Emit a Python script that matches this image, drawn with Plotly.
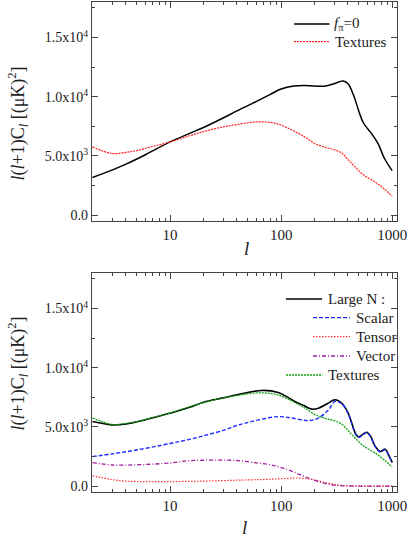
import plotly.graph_objects as go
from plotly.subplots import make_subplots

# ---- data ----
l_fpi0 = [2, 3, 4, 6, 10, 15, 20, 30, 40, 60, 80, 100, 130, 160, 200, 250, 300, 360, 400, 450, 500, 550, 650, 750, 850, 1000]
cl_fpi0 = [3180, 3800, 4300, 5100, 6180, 6900, 7400, 8200, 8800, 9600, 10200, 10650, 10900, 10950, 10900, 10900, 11100, 11320, 11100, 10100, 8800, 7800, 6900, 6000, 4800, 3750]

l_tex = [2, 3, 4, 5, 7, 10, 15, 20, 30, 40, 60, 80, 100, 130, 160, 200, 250, 300, 350, 400, 470, 550, 650, 750, 850, 1000]
cl_tex = [5760, 5200, 5300, 5450, 5800, 6180, 6700, 7050, 7450, 7650, 7870, 7830, 7600, 7100, 6650, 6050, 5720, 5520, 5250, 4700, 4000, 3400, 2980, 2600, 2200, 1600]

l_large = [2, 3, 4, 6, 10, 15, 20, 30, 40, 67, 94, 133, 160, 189, 217, 260, 306, 352, 400, 433, 470, 500, 540, 590, 640, 700, 780, 865, 920, 1000]
cl_large = [5450, 5170, 5250, 5600, 6160, 6650, 7090, 7450, 7710, 8080, 7910, 7150, 6800, 6500, 6580, 6950, 7290, 7000, 6200, 5300, 4400, 4150, 4350, 4550, 4200, 3400, 2920, 3120, 2700, 2000]

l_scalar = [2, 3, 5, 10, 15, 20, 30, 41, 60, 94, 124, 177, 217, 267, 306, 352, 400, 433, 470, 500, 540, 590, 640, 700, 780, 865, 920, 1000]
cl_scalar = [2490, 2720, 3050, 3600, 3950, 4250, 4700, 5150, 5550, 5870, 5750, 5530, 5750, 6440, 7150, 6950, 6150, 5250, 4350, 4100, 4300, 4500, 4150, 3350, 2880, 3080, 2680, 1980]

l_tensor = [2, 3, 4, 6, 10, 20, 41, 70, 100, 143, 203, 267, 350, 450, 600, 1000]
cl_tensor = [870, 550, 420, 380, 380, 420, 500, 560, 620, 680, 510, 230, 60, 10, 0, 0]

l_vector = [2, 3, 5, 10, 15, 20, 30, 41, 58, 82, 117, 164, 233, 300, 400, 600, 1000]
cl_vector = [1980, 1780, 1800, 1950, 2150, 2180, 2200, 2150, 1980, 1780, 1360, 790, 280, 80, 10, 0, 0]

ytick_vals = [0, 5000, 10000, 15000]
ytick_text = ["0.0", "5.0x10<sup>3</sup>", "1.0x10<sup>4</sup>", "1.5x10<sup>4</sup>"]
xtick_vals = [10, 100, 1000]
xtick_text = ["10", "100", "1000"]
xminor_vals = [2, 3, 4, 5, 6, 7, 8, 9, 20, 30, 40, 50, 60, 70, 80, 90, 200, 300, 400, 500, 600, 700, 800, 900]

FONT = "Liberation Serif"
AX = "#444444"
TXT = "#222222"

# ---- layout geometry (pixels) ----
W, H = 409, 541
ML, MR, MT, MB = 92, 12, 2, 49
PW, PH = W - ML - MR, H - MT - MB


def fx(px):
    return (px - ML) / PW


def fy(py):
    return (H - MB - py) / PH


fig = make_subplots(rows=2, cols=1, vertical_spacing=0.106)

S = dict(mode="lines", line_shape="spline", showlegend=False, hoverinfo="skip")
fig.add_trace(go.Scatter(x=l_fpi0, y=cl_fpi0, line=dict(color="black", width=1.5), **S), row=1, col=1)
fig.add_trace(go.Scatter(x=l_tex, y=cl_tex, line=dict(color="#ff2020", width=1.2, dash="2px,1px"), **S), row=1, col=1)

fig.add_trace(go.Scatter(x=l_tensor, y=cl_tensor, line=dict(color="#ff3030", width=1.2, dash="1.5px,1.5px"), **S), row=2, col=1)
fig.add_trace(go.Scatter(x=l_vector, y=cl_vector, line=dict(color="#a020a0", width=1.3, dash="4px,2px,1px,2px"), **S), row=2, col=1)
fig.add_trace(go.Scatter(x=l_large, y=cl_large, line=dict(color="black", width=1.6), **S), row=2, col=1)
fig.add_trace(go.Scatter(x=l_scalar, y=cl_scalar, line=dict(color="#1a2cff", width=1.4, dash="4px,2px"), **S), row=2, col=1)
fig.add_trace(go.Scatter(x=l_tex, y=cl_tex, line=dict(color="#10a010", width=1.3, dash="2px,1px"), **S), row=2, col=1)

xa = dict(type="log", range=[0.2967, 3.0434], tickmode="array", tickvals=xtick_vals, ticktext=xtick_text,
          ticks="inside", ticklen=6, tickwidth=1, tickcolor=AX, showline=True, linecolor=AX, linewidth=1.2,
          mirror="ticks", showgrid=False, zeroline=False, automargin=False,
          tickfont=dict(family=FONT, size=15, color=TXT),
          minor=dict(tickmode="array", tickvals=xminor_vals, ticks="inside", ticklen=3, tickcolor=AX, showgrid=False))
ya = dict(range=[-500, 18000], tickmode="array", tickvals=ytick_vals, ticktext=ytick_text,
          ticks="inside", ticklen=6, tickwidth=1, tickcolor=AX, showline=True, linecolor=AX, linewidth=1.2,
          mirror="ticks", showgrid=False, zeroline=False, automargin=False,
          tickfont=dict(family=FONT, size=14, color=TXT),
          minor=dict(tickmode="linear", tick0=0, dtick=2500, ticks="inside", ticklen=3, tickcolor=AX, showgrid=False))

top_dom = [fy(221), 1.0]
bot_dom = [0.0, fy(273)]
fig.update_layout(
    width=W, height=H, margin=dict(l=ML, r=MR, t=MT, b=MB),
    paper_bgcolor="white", plot_bgcolor="white",
    xaxis=dict(xa), yaxis=dict(ya, domain=top_dom),
    xaxis2=dict(xa), yaxis2=dict(ya, domain=bot_dom),
    font=dict(family=FONT, color=TXT),
)

ylabel = "<i>l</i>(<i>l</i>+1)C<sub><i>l</i></sub> [(μK)<sup>2</sup>]"
ann = []
for cy in (124, 374):
    ann.append(dict(text=ylabel, x=fx(17.5), y=fy(cy), xref="paper", yref="paper", textangle=-90,
                    showarrow=False, xanchor="center", yanchor="middle", font=dict(family=FONT, size=18, color=TXT)))
for cx, cy in ((246.7, 248), (244, 527)):
    ann.append(dict(text="<i>l</i>", x=fx(cx), y=fy(cy), xref="paper", yref="paper", showarrow=False,
                    xanchor="center", yanchor="middle", font=dict(family=FONT, size=19, color=TXT)))

# legend entries: (label, line x0, x1, y, text x, colour, dash, width)
legend_items = [
    ("<i>f</i><sub>π</sub>=0", 294, 329.5, 24, 331.5, "black", "solid", 1.5),
    ("Textures", 294, 329.5, 41.7, 333, "#ff2020", "2px,1px", 1.2),
    ("Large N :", 286, 322, 299, 325.5, "black", "solid", 1.6),
    ("Scalar", 313, 350, 317.7, 354, "#1a2cff", "4px,2px", 1.3),
    ("Tensor", 313, 350, 336.7, 354, "#ff3030", "1.5px,1.5px", 1.2),
    ("Vector", 313, 350, 356, 354, "#a020a0", "4px,2px,1px,2px", 1.3),
    ("Textures", 286, 322.5, 375, 325.5, "#10a010", "2px,1px", 1.3),
]
shapes = []
for lab, x0, x1, yy, tx, col, dash, wd in legend_items:
    shapes.append(dict(type="line", xref="paper", yref="paper", x0=fx(x0), x1=fx(x1), y0=fy(yy), y1=fy(yy),
                       line=dict(color=col, width=wd, dash=dash)))
    ann.append(dict(text=lab, x=fx(tx), y=fy(yy), xref="paper", yref="paper", showarrow=False,
                    xanchor="left", yanchor="middle", font=dict(family=FONT, size=15, color=TXT)))

fig.update_layout(annotations=ann, shapes=shapes)
fig.write_html("out.html", config={"displayModeBar": False},
               post_script="document.body.style.margin='0';document.body.style.padding='0';")
